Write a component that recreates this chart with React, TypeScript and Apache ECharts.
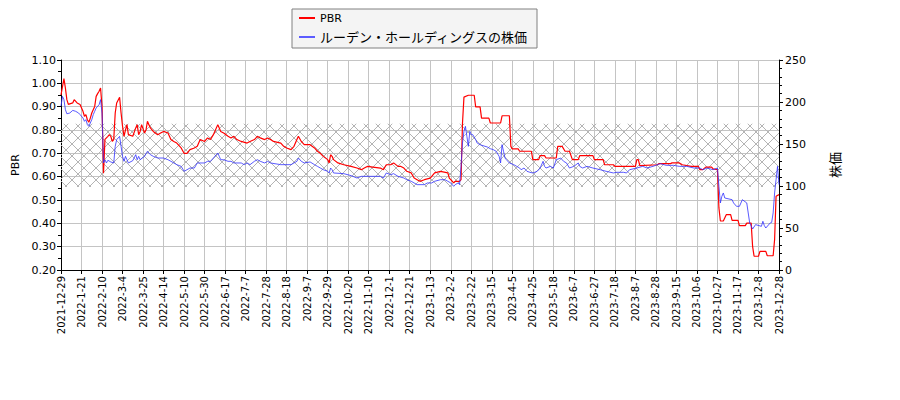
import React, { useEffect, useRef } from 'react'
import * as echarts from 'echarts'

// x axis = trading-day index, a label every 14 days
const dateLabels = [
  '2021-12-29', '2022-1-21', '2022-2-10', '2022-3-4', '2022-3-25', '2022-4-14',
  '2022-5-10', '2022-5-30', '2022-6-17', '2022-7-7', '2022-7-28', '2022-8-18',
  '2022-9-7', '2022-9-29', '2022-10-20', '2022-11-10', '2022-12-1', '2022-12-21',
  '2023-1-13', '2023-2-2', '2023-2-22', '2023-3-15', '2023-4-5', '2023-4-25',
  '2023-5-18', '2023-6-7', '2023-6-27', '2023-7-18', '2023-8-7', '2023-8-28',
  '2023-9-15', '2023-10-6', '2023-10-27', '2023-11-17', '2023-12-8', '2023-12-28',
]

const pbrPoints: [number, number][] = [
  [0, 0.95], [2, 1.02], [3, 0.98], [4, 0.93], [5, 0.91], [8, 0.916], [9, 0.93], [11, 0.916],
  [13, 0.909], [15, 0.88], [16, 0.859], [17, 0.866], [18, 0.844], [19, 0.833], [20, 0.851],
  [21, 0.873], [23, 0.901], [24, 0.944], [25, 0.956], [26, 0.966], [27, 0.98], [28, 0.9],
  [29, 0.615], [30, 0.76], [32, 0.773], [33, 0.78], [34, 0.773], [35, 0.751], [36, 0.759],
  [37, 0.873], [38, 0.916], [40, 0.94], [41, 0.873], [42, 0.816], [43, 0.773], [44, 0.8],
  [45, 0.823], [46, 0.78], [49, 0.773], [51, 0.809], [52, 0.823], [53, 0.78], [54, 0.794],
  [55, 0.823], [57, 0.787], [58, 0.8], [59, 0.837], [60, 0.823], [61, 0.809], [63, 0.794],
  [66, 0.78], [68, 0.787], [70, 0.794], [73, 0.787], [75, 0.759], [77, 0.751], [79, 0.744],
  [82, 0.723], [84, 0.7], [86, 0.7], [88, 0.716], [91, 0.723], [93, 0.73], [95, 0.759],
  [98, 0.751], [100, 0.766], [102, 0.759], [104, 0.78], [107, 0.823], [108, 0.809],
  [109, 0.794], [111, 0.787], [114, 0.773], [116, 0.766], [118, 0.773], [120, 0.759],
  [123, 0.751], [127, 0.744], [129, 0.751], [132, 0.759], [134, 0.773], [136, 0.766],
  [139, 0.759], [141, 0.766], [143, 0.759], [145, 0.751], [150, 0.744], [152, 0.73],
  [154, 0.723], [157, 0.716], [159, 0.73], [161, 0.759], [162, 0.773], [164, 0.751],
  [166, 0.737], [170, 0.737], [173, 0.723], [175, 0.709], [177, 0.7], [179, 0.687],
  [182, 0.673], [183, 0.659], [184, 0.694], [185, 0.687], [186, 0.673], [189, 0.659],
  [193, 0.651], [198, 0.644], [202, 0.637], [205, 0.63], [207, 0.637], [209, 0.644],
  [218, 0.637], [220, 0.63], [222, 0.651], [225, 0.651], [227, 0.659], [230, 0.644],
  [232, 0.644], [234, 0.637], [236, 0.623], [239, 0.616], [241, 0.594], [243, 0.587],
  [245, 0.58], [248, 0.587], [252, 0.594], [255, 0.616], [259, 0.623], [264, 0.616],
  [265, 0.594], [266, 0.587], [268, 0.573], [269, 0.58], [272, 0.58], [273, 0.587],
  [274, 0.83], [275, 0.941], [278, 0.949], [282, 0.949], [283, 0.899], [286, 0.899],
  [287, 0.851], [292, 0.851], [293, 0.83], [300, 0.83], [301, 0.861], [306, 0.861],
  [307, 0.73], [308, 0.719], [312, 0.719], [313, 0.709], [321, 0.709], [322, 0.673],
  [326, 0.673], [327, 0.69], [330, 0.69], [331, 0.68], [338, 0.68], [339, 0.73], [342, 0.73],
  [344, 0.709], [347, 0.709], [349, 0.673], [353, 0.673], [354, 0.69], [363, 0.69],
  [364, 0.673], [370, 0.673], [371, 0.651], [377, 0.651], [378, 0.644], [392, 0.644],
  [393, 0.673], [394, 0.673], [395, 0.647], [407, 0.651], [408, 0.656], [416, 0.656],
  [417, 0.659], [422, 0.659], [424, 0.651], [430, 0.644], [435, 0.644], [436, 0.63],
  [438, 0.63], [440, 0.641], [444, 0.641], [445, 0.633], [448, 0.63], [449, 0.466],
  [450, 0.41], [452, 0.41], [454, 0.437], [457, 0.437], [458, 0.413], [462, 0.413],
  [463, 0.39], [467, 0.39], [468, 0.401], [471, 0.401], [472, 0.3], [473, 0.259],
  [476, 0.259], [477, 0.28], [481, 0.28], [482, 0.261], [486, 0.261], [487, 0.33],
  [488, 0.516], [490, 0.523],
]

const pricePoints: [number, number][] = [
  [0, 195], [1, 206.7], [2, 202.8], [3, 190.9], [4, 186], [6, 186.9], [8, 190], [10, 188.9],
  [12, 186.9], [13, 185], [15, 181], [16, 177], [17, 179], [18, 173], [19, 171], [20, 175],
  [21, 179], [22, 185], [23, 188.9], [24, 192.9], [26, 196.8], [27, 202.8], [28, 186.9],
  [29, 127.4], [30, 131.3], [31, 127.4], [32, 130.6], [34, 128.6], [36, 127.4], [37, 147.2],
  [38, 155.2], [40, 159.1], [41, 147.2], [42, 135.3], [43, 129.4], [44, 135.3], [45, 131.3],
  [46, 127.4], [49, 130.2], [51, 137.3], [52, 131.3], [53, 135.3], [54, 131.3], [57, 135.3],
  [59, 141.3], [61, 137.3], [63, 135.3], [66, 133.3], [70, 133.3], [73, 131.3], [75, 129.4],
  [77, 127.4], [79, 125.4], [82, 123.4], [84, 117.5], [86, 119.4], [88, 121.4], [91, 121.4],
  [93, 127.4], [98, 127.4], [100, 129.4], [102, 129.4], [104, 133.3], [107, 139.3],
  [108, 135.3], [109, 131.3], [111, 131.3], [114, 129.4], [116, 129.4], [118, 127.4],
  [123, 127.4], [125, 125.4], [127, 127.4], [129, 125.4], [132, 129.4], [134, 131.3],
  [136, 129.4], [139, 127.4], [141, 129.4], [143, 127.4], [150, 125.4], [157, 125.4],
  [159, 127.4], [161, 129.4], [162, 133.3], [164, 129.4], [166, 127.4], [170, 128.6],
  [173, 125.4], [175, 123.4], [177, 121.4], [179, 119.4], [182, 117.5], [183, 115.5],
  [184, 121.4], [185, 119.4], [186, 115.5], [193, 114.7], [198, 112.3], [202, 109.5],
  [205, 111.5], [218, 111.5], [220, 109.5], [222, 115.5], [225, 113.5], [227, 114.7],
  [230, 111.5], [234, 109.5], [236, 107.5], [239, 105.6], [241, 103.6], [243, 101.6],
  [248, 101.6], [250, 103.6], [253, 103.6], [255, 105.6], [259, 107.5], [262, 107.5],
  [264, 105.6], [266, 103.6], [268, 99.6], [269, 101.6], [271, 103.6], [272, 101.6],
  [273, 123.4], [274, 151.2], [275, 165.1], [276, 171], [277, 159.1], [278, 147.2],
  [279, 165.1], [280, 161.1], [281, 161.1], [283, 155.2], [284, 151.2], [286, 149.2],
  [288, 148], [291, 146.4], [293, 144.4], [295, 143.3], [297, 141.3], [299, 135.3],
  [300, 127.4], [301, 149.2], [302, 141.3], [303, 133.3], [304, 131.3], [306, 127.4],
  [309, 125.4], [311, 123.4], [313, 121.4], [314, 119.4], [316, 121.4], [318, 117.5],
  [320, 116.3], [322, 115.5], [325, 117.5], [327, 121.4], [329, 129.4], [330, 123.4],
  [331, 121.4], [334, 123.4], [336, 121.4], [338, 131.3], [341, 133.3], [343, 129.4],
  [345, 127.4], [347, 121.4], [350, 123.4], [353, 127.4], [354, 123.4], [356, 121.4],
  [359, 123.4], [363, 121.4], [368, 119.4], [372, 117.5], [377, 115.5], [379, 116.3],
  [384, 116.3], [386, 115.5], [388, 119.4], [393, 121.4], [397, 123.4], [400, 121.4],
  [404, 123.4], [409, 126.6], [413, 124.6], [418, 124.6], [422, 123.4], [427, 123.4],
  [432, 121.4], [436, 121.4], [438, 119.4], [441, 121.4], [445, 119.4], [448, 121.4],
  [449, 99.6], [450, 79.8], [451, 87.7], [452, 91.7], [453, 85.7], [458, 83.7], [459, 79.8],
  [461, 75.8], [463, 75.8], [465, 83.7], [468, 79.8], [469, 67.9], [470, 56], [472, 48.8],
  [474, 54], [478, 52], [479, 58], [480, 52.8], [481, 50], [484, 56], [485, 56.7],
  [486, 67.9], [487, 91.7], [488, 107.5], [489, 123.4], [490, 101.6],
]

// hatched PBR range
const pbrBand = [0.556, 0.827]

const FONT = "'DejaVu Sans', 'Noto Sans CJK JP', sans-serif"

function makeHatch() {
  const c = document.createElement('canvas')
  c.width = 12
  c.height = 12
  const ctx = c.getContext('2d')!
  ctx.strokeStyle = '#b4b4b4'
  ctx.lineWidth = 1
  ctx.beginPath()
  ctx.moveTo(0, 0)
  ctx.lineTo(12, 12)
  ctx.moveTo(12, 0)
  ctx.lineTo(0, 12)
  ctx.stroke()
  return c
}

export default function App() {
  const chartRef = useRef<HTMLDivElement>(null)

  useEffect(() => {
    if (!chartRef.current) return
    const chart = echarts.init(chartRef.current, null, { renderer: 'svg' })

    const option = {
      animation: false,
      textStyle: { fontFamily: FONT },
      legend: {
        orient: 'vertical',
        left: 292,
        top: 9,
        padding: [2, 9, 4, 7],
        itemGap: 5,
        itemWidth: 16,
        itemHeight: 2,
        icon: 'rect',
        backgroundColor: '#f4f4f4',
        borderColor: '#808080',
        borderWidth: 1,
        borderRadius: 0,
        data: [
          { name: 'PBR', textStyle: { fontSize: 11, lineHeight: 14 } },
          { name: 'ルーデン・ホールディングスの株価', textStyle: { fontSize: 13, lineHeight: 14 } },
        ],
        textStyle: { color: '#000', fontFamily: FONT, lineHeight: 14 },
      },
      grid: { left: 61, top: 60, right: 121, bottom: 130, containLabel: false },
      xAxis: {
        type: 'value',
        min: 0,
        max: 490,
        interval: 14,
        axisLine: { lineStyle: { color: '#000', width: 1 } },
        axisTick: { show: true, length: 4, lineStyle: { color: '#000' } },
        axisLabel: {
          rotate: 90,
          margin: 6,
          fontSize: 10,
          color: '#000',
          fontFamily: FONT,
          formatter: (v: number) => dateLabels[Math.round(v / 14)] ?? '',
        },
        splitLine: { show: true, lineStyle: { color: '#c4c4c4', width: 1 } },
      },
      yAxis: [
        {
          type: 'value',
          position: 'left',
          min: 0.2,
          max: 1.1,
          interval: 0.1,
          name: 'PBR',
          nameLocation: 'middle',
          nameRotate: 90,
          nameGap: 36,
          nameTextStyle: { fontSize: 11, color: '#000', fontFamily: FONT },
          axisLine: { show: true, lineStyle: { color: '#000' } },
          axisTick: { show: true, length: 4, lineStyle: { color: '#000' } },
          minorTick: { show: true, splitNumber: 2, length: 3, lineStyle: { color: '#000' } },
          axisLabel: {
            fontSize: 11,
            color: '#000',
            margin: 5,
            fontFamily: FONT,
            formatter: (v: number) => v.toFixed(2),
          },
          splitLine: { show: true, lineStyle: { color: '#c4c4c4', width: 1 } },
        },
        {
          type: 'value',
          position: 'right',
          min: 0,
          max: 250,
          interval: 50,
          name: '株価',
          nameLocation: 'middle',
          nameRotate: 90,
          nameGap: 50,
          nameTextStyle: { fontSize: 13, color: '#000', fontFamily: FONT },
          axisLine: { show: true, lineStyle: { color: '#000' } },
          axisTick: { show: true, length: 4, lineStyle: { color: '#000' } },
          minorTick: { show: true, splitNumber: 5, length: 3, lineStyle: { color: '#000' } },
          axisLabel: { fontSize: 11, color: '#000', margin: 6, fontFamily: FONT },
          splitLine: { show: false },
        },
      ],
      series: [
        {
          name: 'PBR',
          type: 'line',
          yAxisIndex: 0,
          data: pbrPoints,
          showSymbol: false,
          lineStyle: { color: '#ff0000', width: 1.2 },
          itemStyle: { color: '#ff0000' },
          markArea: {
            silent: true,
            itemStyle: { color: { image: makeHatch(), repeat: 'repeat' } },
            data: [[{ yAxis: pbrBand[0] }, { yAxis: pbrBand[1] }]],
          },
        },
        {
          name: 'ルーデン・ホールディングスの株価',
          type: 'line',
          yAxisIndex: 1,
          data: pricePoints,
          showSymbol: false,
          lineStyle: { color: '#3030ff', width: 0.8 },
          itemStyle: { color: '#5c5cff' },
        },
      ],
    }

    chart.setOption(option as any)
    return () => {
      chart.dispose()
    }
  }, [])

  return (
    <div style={{ position: 'absolute', left: 0, top: 0, width: 900, height: 400, background: '#fff' }}>
      <div ref={chartRef} style={{ width: 900, height: 400 }} />
    </div>
  )
}
